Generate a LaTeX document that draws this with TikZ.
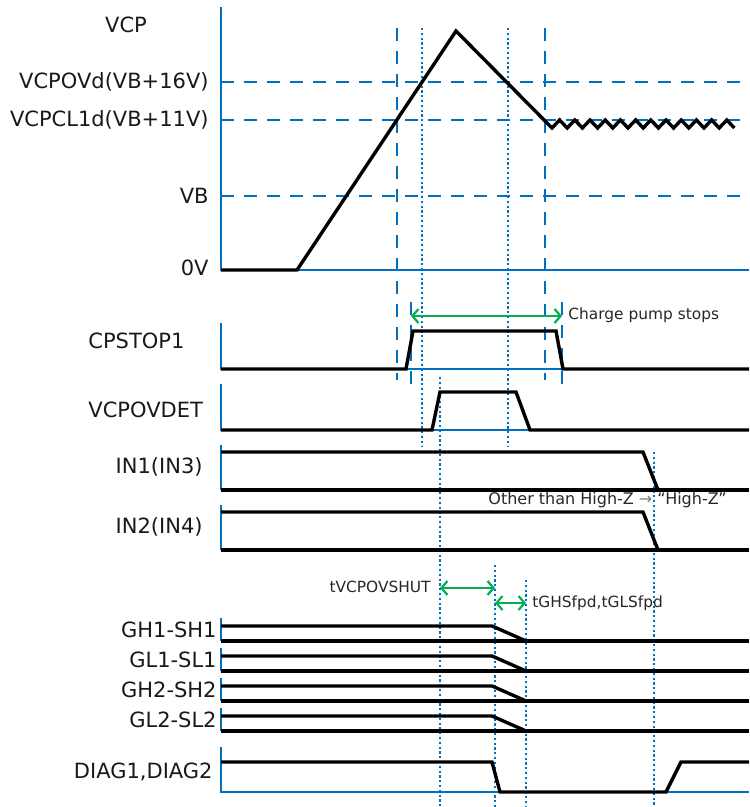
\documentclass[tikz,border=0pt]{standalone}
\usepackage{fontspec}
\setmainfont{DejaVu Sans}
\usetikzlibrary{arrows.meta}
\definecolor{vblue}{RGB}{0,112,192}
\definecolor{vgreen}{RGB}{0,176,80}
\tikzset{
  lbl/.style={inner sep=0pt, font=\fontsize{10.5}{12}\selectfont, text=black!90},
  note/.style={inner sep=0pt, font=\fontsize{7.7}{9}\selectfont, text=black!85},
  axis/.style={vblue, line width=0.9pt},
  sig/.style={black, line width=1.7pt},
  dashguide/.style={vblue, line width=1pt, dash pattern=on 6.5pt off 5pt},
  dotguide/.style={vblue, line width=1.1pt, dash pattern=on 1.1pt off 1.3pt},
  tarrow/.style={vgreen, line width=1.1pt, {Straight Barb[length=3pt,width=7pt]}-{Straight Barb[length=3pt,width=7pt]}}
}
\begin{document}
\begin{tikzpicture}[x=0.5pt, y=-0.5pt]
    \useasboundingbox (0,0) rectangle (749,807);

    % VCP levels
    \draw[axis] (221,7) -- (221,270) -- (749,270);
    \draw[dashguide] (221,82) -- (749,82);
    \draw[dashguide] (221,120) -- (749,120);
    \draw[dashguide] (221,196) -- (749,196);

    % timing guides
    \draw[dashguide] (397,28) -- (397,380);
    \draw[dashguide] (545,28) -- (545,380);
    \draw[dotguide] (422,28) -- (422,446);
    \draw[dotguide] (508,28) -- (508,446);
    \draw[dashguide] (411,302) -- (411,385);
    \draw[dashguide] (562,302) -- (562,385);
    \draw[dotguide] (440,377) -- (440,807);
    \draw[dotguide] (654,452) -- (654,807);
    \draw[dotguide] (495,565) -- (495,807);
    \draw[dotguide] (526,580) -- (526,807);

    % VCP waveform with clamp ripple
    \draw[sig] (221,270) -- (297,270) -- (456,31) -- (552,128)
        \foreach \k in {0,...,11} { -- ({559.6+15.2*\k},120) -- ({567.2+15.2*\k},128) };

    \node[lbl] (vcp) at (126,25) {VCP};
    \node[lbl, anchor=east] (vcpovd) at (209,82) {VCPOVd(VB+16V)};
    \node[lbl, anchor=east] (vcpcl) at (209,120) {VCPCL1d(VB+11V)};
    \node[lbl, anchor=east] (vb) at (209,196) {VB};
    \node[lbl, anchor=east] (zero) at (209,268) {0V};

    % CPSTOP1
    \draw[axis] (221,323) -- (221,369) -- (749,369);
    \draw[sig] (221,369) -- (406,369) -- (413,331) -- (556,331) -- (563,369) -- (749,369);
    \node[lbl, anchor=west] (cpstop) at (88,341) {CPSTOP1};
    \coordinate (cps-l) at (411,316);
    \coordinate (cps-r) at (562,316);
    \draw[tarrow] (cps-l) -- (cps-r);
    \node[note, anchor=west] (cpsnote) at (568,315) {Charge pump stops};

    % VCPOVDET
    \draw[axis] (221,384) -- (221,430) -- (749,430);
    \draw[sig] (221,430) -- (432,430) -- (440,392) -- (516,392) -- (530,430) -- (749,430);
    \node[lbl, anchor=west] (ovdet) at (88,410) {VCPOVDET};

    % IN1(IN3), IN2(IN4)
    \draw[axis] (221,445) -- (221,490);
    \draw[sig] (221,452) -- (643,452) -- (658,490);
    \draw[sig] (221,490) -- (749,490);
    \node[lbl, anchor=east] (in1) at (203,467) {IN1(IN3)};
    \node[note, anchor=west, font=\fontsize{8}{9}\selectfont] (hiz) at (488,500) {Other than High-Z {\color{gray}→} “High-Z”};

    \draw[axis] (221,505) -- (221,550);
    \draw[sig] (221,512) -- (643,512) -- (658,550);
    \draw[sig] (221,550) -- (749,550);
    \node[lbl, anchor=east] (in2) at (203,527) {IN2(IN4)};

    % shut-down times
    \coordinate (sh-l) at (440,588);
    \coordinate (sh-r) at (495,588);
    \draw[tarrow] (sh-l) -- (sh-r);
    \node[note, anchor=east] (shut) at (431,587) {tVCPOVSHUT};
    \coordinate (fp-l) at (495,603);
    \coordinate (fp-r) at (526,603);
    \draw[tarrow] (fp-l) -- (fp-r);
    \node[note, anchor=west] (fpd) at (532,603) {tGHSfpd,tGLSfpd};

    % gate outputs
    \foreach \y/\name in {626/GH1-SH1, 656/GL1-SL1, 686/GH2-SH2, 716/GL2-SL2} {
        \draw[axis] (221,\y-8) -- (221,\y+15);
        \draw[sig] (221,\y) -- (492,\y) -- (526,\y+15);
        \draw[sig] (221,\y+15) -- (749,\y+15);
        \node[lbl, anchor=east] (gate-\y) at (217,\y+4) {\name};
    }

    % DIAG
    \draw[axis] (221,747) -- (221,792) -- (749,792);
    \draw[sig] (221,762) -- (492,762) -- (500,792) -- (666,792) -- (681,762) -- (749,762);
    \node[lbl, anchor=east] (diag) at (213,772) {DIAG1,DIAG2};
\end{tikzpicture}
\end{document}
